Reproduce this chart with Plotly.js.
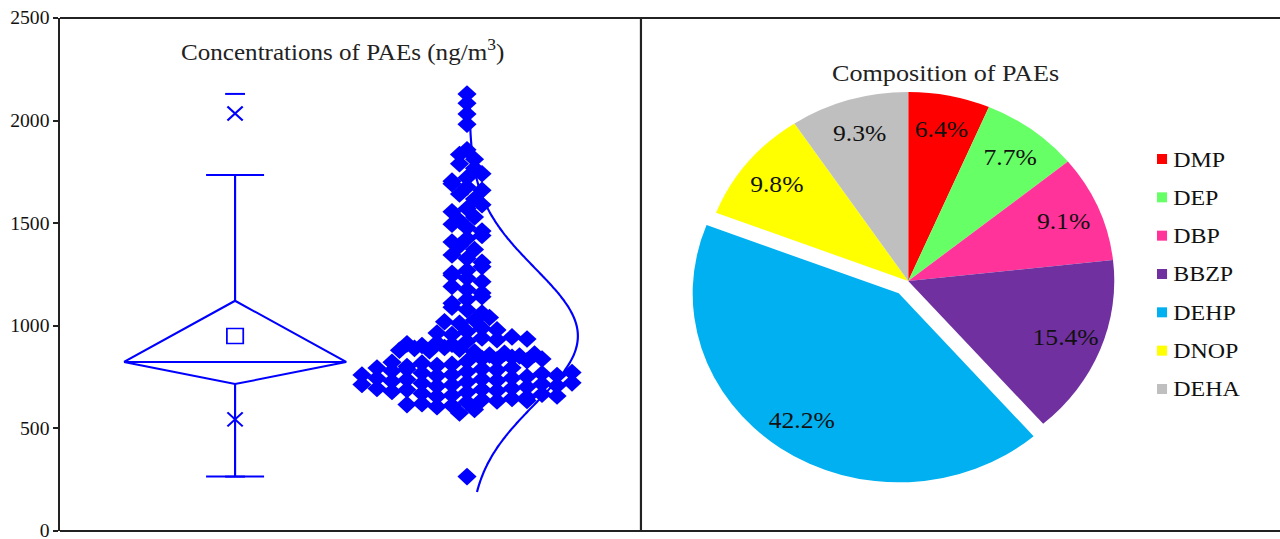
<!DOCTYPE html>
<html>
<head>
<meta charset="utf-8">
<script src="https://cdn.plot.ly/plotly-3.0.1.min.js"></script>
<style>
  html, body { margin: 0; padding: 0; background: #fff; overflow: hidden; }
  /* the figure is drawn at 1174 px and widened to the 1280 px frame */
  #chart { width: 1174px; height: 539px; transform: scaleX(1.0903); transform-origin: 0 0; }
</style>
</head>
<body>
<div id="chart"></div>
<script>
// ---- Left panel: PAE concentrations (ng/m3), one value per sample ----
const concentrations = [
  2130, 2085, 2032, 1982,
  1858, 1812, 1835, 1768, 1790,
  1722, 1741, 1705, 1676, 1660, 1692, 1618, 1642,
  1572, 1590, 1556, 1530, 1512, 1478, 1462, 1495,
  1425, 1440, 1408, 1372, 1390, 1328, 1310, 1345,
  1270, 1288, 1256, 1232, 1215, 1246, 1176, 1160, 1192,
  1128, 1142, 1110, 1078, 1062, 1090,
  1028, 1012, 1040, 1020, 972, 988, 958, 980, 965,
  925, 941, 910, 932, 918, 946, 904, 936, 912,
  872, 886, 858, 894, 866, 878, 853, 890, 862, 881,
  826, 840, 812, 834, 806, 846, 818, 830, 802, 838, 822,
  776, 790, 762, 784, 756, 796, 770, 752, 788, 766, 780, 758, 794, 772, 760,
  726, 740, 712, 734, 706, 746, 720, 702, 738, 716, 730, 708, 744, 722, 714,
  676, 690, 662, 684, 656, 696, 670, 652, 688, 666, 680, 658, 694,
  628, 640, 612, 634, 606, 646, 620, 636, 616,
  592, 575,
  265
];

// Box summary statistics (ng/m3)
const q1 = 716;
const median = 824;
const q3 = 1122;
const meanValue = 950;
const whiskerLow = 265;
const whiskerHigh = 1735;
const pct1 = 544;
const pct99 = 2035;
const minValue = 265;
const maxValue = 2130;

// Normal curve fitted to the concentrations
const fitMean = 950;
const fitSD = 330;
const fitFrom = 190;
const fitTo = 2140;

const yTicks = [0, 500, 1000, 1500, 2000, 2500];

// ---- Right panel: composition of PAEs (%) ----
const compounds = ['DMP', 'DEP', 'DBP', 'BBZP', 'DEHP', 'DNOP', 'DEHA'];
const shares = [6.4, 7.7, 9.1, 15.4, 42.2, 9.8, 9.3];
const sliceColors = ['#FF0000', '#66FF66', '#FF3399', '#7030A0', '#00B0F0', '#FFFF00', '#BFBFBF'];

// ---- geometry helpers (figure pixels -> paper fractions) ----
const FIG_W = 1174, FIG_H = 539;
const M = { l: 55, r: 0, t: 18, b: 8 };
const plotW = FIG_W - M.l - M.r, plotH = FIG_H - M.t - M.b;
const px = x => (x - M.l) / plotW;
const py = y => (FIG_H - M.b - y) / plotH;

const FONT = 'Liberation Serif';
const BLUE = '#0000FF';
const INK = '#222222';

const BOX_X = 1, PTS_X = 2;
const boxHalf = 0.4787, capHalf = 0.125;
const rowStep = 0.0647, binSize = 50;

// spread points that share a bin side by side, centre-out
function spreadInBins(vals) {
  const bins = new Map();
  vals.forEach((v, i) => {
    const k = Math.floor(v / binSize);
    if (!bins.has(k)) bins.set(k, []);
    bins.get(k).push(i);
  });
  const xs = new Array(vals.length);
  bins.forEach(idx => {
    const n = idx.length;
    const slots = [];
    for (let s = 0; s < n; s++) slots.push(s - (n - 1) / 2);
    slots.sort((a, b) => Math.abs(a) - Math.abs(b) || b - a);
    idx.forEach((id, j) => { xs[id] = PTS_X + slots[j] * rowStep; });
  });
  return xs;
}

const pointX = spreadInBins(concentrations);

// fitted density drawn sideways next to the points
const curveY = [], curveX = [];
for (let v = fitFrom; v <= fitTo; v += 10) {
  curveY.push(v);
  curveX.push(PTS_X + 0.01 + 0.468 * Math.exp(-Math.pow(v - fitMean, 2) / (2 * fitSD * fitSD)));
}

const lineStyle = { color: BLUE, width: 2 };

const traces = [
  // whiskers
  { type: 'scatter', mode: 'lines', x: [BOX_X, BOX_X, null, BOX_X, BOX_X],
    y: [whiskerLow, q1, null, q3, whiskerHigh], line: lineStyle, hoverinfo: 'skip' },
  // whisker caps
  { type: 'scatter', mode: 'lines',
    x: [BOX_X - capHalf, BOX_X + capHalf, null, BOX_X - capHalf, BOX_X + capHalf],
    y: [whiskerLow, whiskerLow, null, whiskerHigh, whiskerHigh], line: lineStyle, hoverinfo: 'skip' },
  // diamond box with median line
  { type: 'scatter', mode: 'lines',
    x: [BOX_X - boxHalf, BOX_X, BOX_X + boxHalf, BOX_X, BOX_X - boxHalf, null, BOX_X - boxHalf, BOX_X + boxHalf],
    y: [median, q3, median, q1, median, null, median, median],
    line: { color: BLUE, width: 2 }, hoverinfo: 'skip' },
  // mean
  { type: 'scatter', mode: 'markers', x: [BOX_X], y: [meanValue],
    marker: { symbol: 'square-open', size: 15, color: BLUE, line: { color: BLUE, width: 1.6 } }, hoverinfo: 'skip' },
  // 1% and 99%
  { type: 'scatter', mode: 'markers', x: [BOX_X, BOX_X], y: [pct1, pct99],
    marker: { symbol: 'x-thin', size: 14, color: BLUE, line: { color: BLUE, width: 2 } }, hoverinfo: 'skip' },
  // min and max
  { type: 'scatter', mode: 'markers', x: [BOX_X, BOX_X], y: [minValue, maxValue],
    marker: { symbol: 'line-ew', size: 13, color: BLUE, line: { color: BLUE, width: 2 } }, hoverinfo: 'skip' },
  // normal curve
  { type: 'scatter', mode: 'lines', x: curveX, y: curveY,
    line: { color: BLUE, width: 2, shape: 'spline' }, hoverinfo: 'skip' },
  // individual samples
  { type: 'scatter', mode: 'markers', x: pointX, y: concentrations,
    marker: { symbol: 'diamond', size: 13.5, color: BLUE, line: { width: 0 } }, hoverinfo: 'skip' }
];

// pie placement
const pieCx = 833, pieCy = 281, pieR = 189, pullAmt = 0.08;
const pieHalf = pieR * (1 + pullAmt);
const pulls = compounds.map(c => (c === 'DEHP' ? pullAmt : 0));

traces.push({
  type: 'pie', labels: compounds, values: shares, sort: false,
  direction: 'clockwise', rotation: 0, pull: pulls,
  marker: { colors: sliceColors, line: { width: 0 } },
  textinfo: 'none', hoverinfo: 'skip', showlegend: false,
  domain: { x: [px(pieCx - pieHalf), px(pieCx + pieHalf)], y: [py(pieCy + pieHalf), py(pieCy - pieHalf)] }
});

const annotations = [
  { xref: 'paper', yref: 'paper', x: px(314.6), y: py(50), xanchor: 'center', yanchor: 'middle',
    text: 'Concentrations of PAEs (ng/m<sup>3</sup>)', showarrow: false,
    font: { family: FONT, size: 23, color: INK } },
  { xref: 'paper', yref: 'paper', x: px(867.6), y: py(73), xanchor: 'center', yanchor: 'middle',
    text: 'Composition of PAEs', showarrow: false,
    font: { family: FONT, size: 24, color: INK } }
];

// percentage labels placed along each slice's mid-angle
const total = shares.reduce((a, b) => a + b, 0);
let cum = 0;
shares.forEach((v, i) => {
  const theta = 2 * Math.PI * (cum + v / 2) / total;
  cum += v;
  const rr = pieR * (0.82 + pulls[i]);
  annotations.push({
    xref: 'paper', yref: 'paper',
    x: px(pieCx + rr * Math.sin(theta)), y: py(pieCy - rr * Math.cos(theta)),
    xanchor: 'center', yanchor: 'middle', showarrow: false,
    text: v.toFixed(1) + '%', font: { family: FONT, size: 23.5, color: '#111' }
  });
});

const shapes = [
  { type: 'line', xref: 'paper', yref: 'paper', x0: 0, x1: 1, y0: 1, y1: 1, line: { color: INK, width: 2 } },
  { type: 'line', xref: 'paper', yref: 'paper', x0: 0, x1: 1, y0: 0, y1: 0, line: { color: INK, width: 2 } },
  { type: 'line', xref: 'paper', yref: 'paper', x0: 0.4762, x1: 0.4762, y0: 0, y1: 1, line: { color: INK, width: 2 } }
];

// legend: colour key and name per compound
compounds.forEach((name, i) => {
  const rowY = 159 + i * 38.33;
  shapes.push({ type: 'rect', xref: 'paper', yref: 'paper',
    x0: px(1061.2), x1: px(1070.4), y0: py(rowY + 5), y1: py(rowY - 5),
    fillcolor: sliceColors[i], line: { width: 0 } });
  annotations.push({ xref: 'paper', yref: 'paper', x: px(1073.5), y: py(rowY),
    xanchor: 'left', yanchor: 'middle', showarrow: false, text: name,
    font: { family: FONT, size: 22, color: '#111' } });
});

const layout = {
  width: FIG_W, height: FIG_H,
  margin: { l: M.l, r: M.r, t: M.t, b: M.b, pad: 0 },
  paper_bgcolor: '#ffffff', plot_bgcolor: 'rgba(0,0,0,0)',
  showlegend: false,
  font: { family: FONT },
  xaxis: { domain: [0, 0.4762], range: [0.245, 2.75], showgrid: false, zeroline: false,
    showticklabels: false, ticks: '', showline: false, fixedrange: true },
  yaxis: { range: [0, 2500], tickvals: yTicks, ticks: 'outside', ticklen: 4, tickwidth: 2,
    tickcolor: INK, showline: true, linecolor: INK, linewidth: 2, showgrid: false, zeroline: false,
    ticklabeloverflow: 'allow', tickfont: { family: FONT, size: 18, color: '#111' }, fixedrange: true },
  shapes: shapes,
  annotations: annotations
};

Plotly.newPlot('chart', traces, layout, { staticPlot: true, displayModeBar: false });
</script>
</body>
</html>
